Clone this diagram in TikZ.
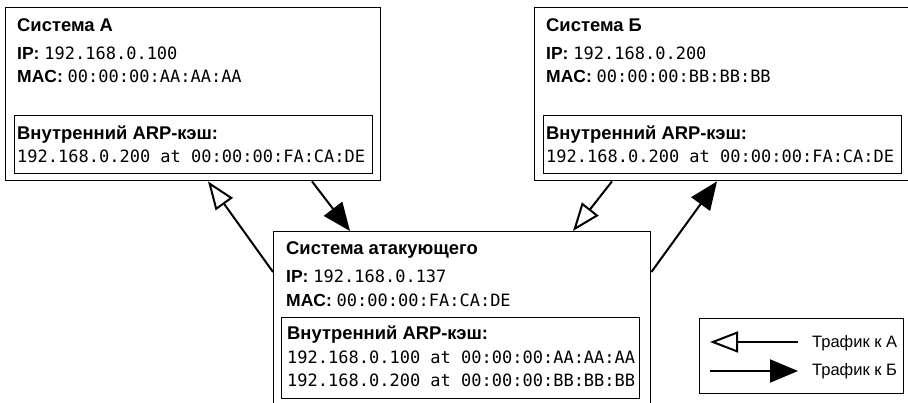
\documentclass[tikz,border=0pt]{standalone}
\usepackage{fontspec}
\setmainfont{Liberation Sans}
\setmonofont{DejaVu Sans Mono}
\usetikzlibrary{arrows.meta,positioning,calc}
\newcommand{\addr}[1]{{\fontsize{17}{20}\selectfont\ttfamily #1}}
\tikzset{
  sys/.style={draw, line width=1.4pt, anchor=north west, minimum width=375,
              minimum height=173, inner sep=0pt},
  cache/.style={draw, line width=1.4pt, anchor=north west, minimum width=358,
              minimum height=58, inner sep=0pt},
  hdr/.style={anchor=base west, inner sep=0pt, font=\fontsize{18.4}{20}\selectfont\bfseries},
  val/.style={anchor=base west, inner sep=0pt, font=\fontsize{17.5}{20}\selectfont},
  lgdtxt/.style={anchor=base west, inner sep=0pt, font=\fontsize{16.5}{19}\selectfont},
  toA/.style={-{Triangle[open, length=28pt, width=21pt]}, line width=2pt},
  toB/.style={-{Triangle[length=28pt, width=23pt]}, line width=2pt},
}

\begin{document}
\begin{tikzpicture}[x=1pt, y=-1pt]
  \clip (0,0) rectangle (908,403);

  % hosts A and B
  \foreach \n/\lbl/\x/\ip/\mac in {A/A/5/100/AA, B/Б/534/200/BB} {
    \node[sys] (sys\n) at (\x,7) {};
    \node[hdr] (name\n) at (\x+12,32) {Система \lbl};
    \node[val] (ip\n) at (\x+12,60) {\textbf{IP:} \addr{192.168.0.\ip}};
    \node[val] (mac\n) at (\x+12,83) {\textbf{MAC:} \addr{00:00:00:\mac:\mac:\mac}};
    \node[cache] (cache\n) at (\x+9,115) {};
    \node[hdr] (ctitle\n) at (\x+12,140) {Внутренний ARP-кэш:};
    \node[val] (centry\n) at (\x+12,163) {\addr{192.168.0.200 at 00:00:00:FA:CA:DE}};
  }

  % attacker
  \node[sys, minimum width=377, minimum height=190] (att) at (273,231) {};
  \node[hdr] (nameAtt) at (286,255) {Система атакующего};
  \node[val] (ipAtt) at (286,283) {\textbf{IP:} \addr{192.168.0.137}};
  \node[val] (macAtt) at (286,307) {\textbf{MAC:} \addr{00:00:00:FA:CA:DE}};
  \node[cache, minimum height=81] (cacheAtt) at (281,317) {};
  \node[hdr] (ctitleAtt) at (287,340) {Внутренний ARP-кэш:};
  \node[val] (centryA) at (287,364) {\addr{192.168.0.100 at 00:00:00:AA:AA:AA}};
  \node[val] (centryB) at (287,387) {\addr{192.168.0.200 at 00:00:00:BB:BB:BB}};

  % traffic
  \coordinate (pA1) at ($(sysA.south west)+(203,0)$);
  \coordinate (pA2) at ($(sysA.south west)+(307,0)$);
  \coordinate (pB1) at ($(sysB.south west)+(78,0)$);
  \coordinate (pB2) at ($(sysB.south west)+(183,0)$);
  \coordinate (q1) at ($(att.north west)+(0,41)$);
  \coordinate (q2) at ($(att.north west)+(77,0)$);
  \coordinate (q3) at ($(att.north west)+(300,0)$);
  \coordinate (q4) at ($(att.north east)+(0,41)$);
  \draw[toA] (q1) -- (pA1);
  \draw[toB] (pA2) -- (q2);
  \draw[toA] (pB1) -- (q3);
  \draw[toB] (q4) -- (pB2);

  % legend
  \node[draw, line width=1.4pt, anchor=north west, minimum width=204,
        minimum height=75, inner sep=0pt] (lgd) at (699,318) {};
  \coordinate (lA1) at (798,342);
  \coordinate (lA2) at (710,342);
  \coordinate (lB1) at (710,371);
  \coordinate (lB2) at (798,371);
  \draw[toA] (lA1) -- (lA2);
  \draw[toB] (lB1) -- (lB2);
  \node[lgdtxt] (lgdA) at (812,348) {Трафик к А};
  \node[lgdtxt] (lgdB) at (812,375) {Трафик к Б};
\end{tikzpicture}
\end{document}
